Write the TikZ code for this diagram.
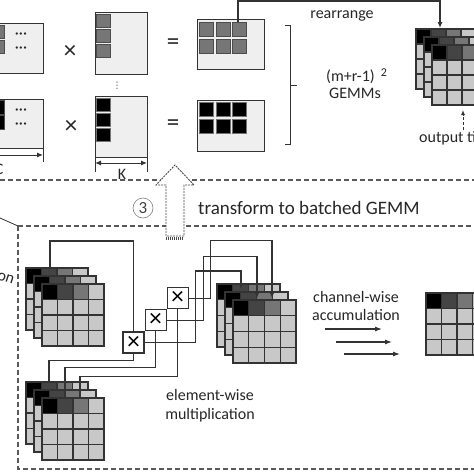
\documentclass[tikz,border=0pt]{standalone}
\usepackage{fontspec}
\setmainfont{Carlito}
\newfontfamily\symfont{DejaVu Sans}
\usetikzlibrary{arrows.meta}

\definecolor{tiledark}{HTML}{444444}
\definecolor{tilemid}{HTML}{767676}
\definecolor{tilelight}{HTML}{C8C8C8}
\definecolor{matfill}{HTML}{EFEFEF}
\definecolor{edge}{HTML}{333333}

% one 4x4 tile: left x, top y, cell size
\newcommand{\drawtile}[3]{%
  \foreach \ci/\tone in {0/black,1/tiledark,2/tilemid,3/tilelight}
    \filldraw[cell, fill=\tone] ({#1+\ci*#3},#2) rectangle ++(#3,#3);
  \foreach \ri in {1,2,3}
    \foreach \ci in {0,...,3}
      \filldraw[cell, fill=tilelight] ({#1+\ci*#3},{#2+\ri*#3}) rectangle ++(#3,#3);
}
% three tiles stacked as channels
\newcommand{\drawstack}[3]{%
  \drawtile{#1}{#2}{#3}
  \drawtile{#1+8}{#2+8}{#3}
  \drawtile{#1+16}{#2+16}{#3}
}

\begin{document}
\begin{tikzpicture}[x=1pt, y=-1pt,
    cell/.style={draw=edge, line width=1.2pt},
    mat/.style={draw=edge, fill=matfill, line width=1pt, rectangle, inner sep=0pt},
    sq/.style={draw=black!70, line width=1pt},
    wire/.style={draw=edge, line width=1.1pt},
    band/.style={draw=black!65, line width=1.1pt, dash pattern=on 5pt off 3pt},
    lbl/.style={font=\fontsize{16}{18}\selectfont, text=black!85, inner sep=0pt},
    dots/.style={lbl, align=center, font=\fontsize{16}{14}\selectfont},
    op/.style={font=\fontsize{25}{26}\selectfont, text=black!85, inner sep=0pt},
    mulbox/.style={draw=edge, fill=white, line width=1.1pt, minimum size=21pt,
      inner sep=0pt, font=\fontsize{25}{25}\selectfont}]

    \useasboundingbox (0,0) rectangle (474,474);
    \clip (0,0) rectangle (474,474);

    % Batched GEMM: matrices
    \node (lhsA) [mat, minimum width=53pt, minimum height=50pt] at (16.5,48) {};
    \node (lhsB) [mat, minimum width=53pt, minimum height=49pt] at (16.5,123.5) {};
    \node (rhsA) [mat, minimum width=52pt, minimum height=62pt] at (121,43) {};
    \node (rhsB) [mat, minimum width=52pt, minimum height=61pt] at (121,126.5) {};
    \node (resA) [mat, minimum width=67pt, minimum height=50pt] at (230.5,44) {};
    \node (resB) [mat, minimum width=67pt, minimum height=51pt] at (230.5,125.5) {};

    \foreach \yy in {25,40}
      \filldraw[sq, fill=tilemid] (-9,\yy) rectangle ++(13,13);
    \foreach \yy in {100,115}
      \filldraw[sq, fill=black] (-9,\yy) rectangle ++(13,14);
    \foreach \yy in {14,29,44}
      \filldraw[sq, fill=tilemid] (96,\yy) rectangle ++(14,13);
    \foreach \yy in {98,113,128}
      \filldraw[sq, draw=black!55, fill=black] (96,\yy) rectangle ++(14,13);
    \foreach \xx in {199,216,232}
      \foreach \yy in {22,39}
        \filldraw[sq, fill=tilemid] (\xx,\yy) rectangle ++(14,14);
    \foreach \xx in {199,216,232}
      \foreach \yy in {102,119}
        \filldraw[sq, draw=black!55, fill=black] (\xx,\yy) rectangle ++(14,14);

    \node (dotsA) [dots] at (21,43) {···\\···};
    \node (dotsB) [dots] at (21,119) {···\\···};
    \node (vdots) [inner sep=0pt, font=\symfont\fontsize{9}{10}\selectfont, text=black!75] at (117,86) {⋮};

    \node (timesA) [op] at (70,52) {×};
    \node (timesB) [op] at (71,127) {×};
    \node (eqA) [op] at (173,44) {=};
    \node (eqB) [op] at (173,125) {=};

    % Dimensions C and K
    \coordinate (cL) at (-8,155);
    \coordinate (cR) at (43,155);
    \draw[wire, line width=1pt, -{Latex[length=6pt,width=5pt]}] (cL) -- (cR);
    \draw[wire, line width=1pt] (43,148) -- (43,162);
    \node (clbl) [lbl, anchor=east] at (3.5,169) {C};
    \coordinate (kL) at (95,163);
    \coordinate (kR) at (147,163);
    \draw[wire, line width=1pt, {Latex[length=6pt,width=5pt]}-{Latex[length=6pt,width=5pt]}] (kL) -- (kR);
    \draw[wire, line width=1pt] (95,157) -- (95,172) (147,157) -- (147,172);
    \node (klbl) [lbl] at (122,174) {K};

    % Brace
    \draw[wire, line width=1pt] (285,25) -- (290,25) -- (290,144) -- (285,144);
    \draw[wire, line width=1pt] (290,85) -- (297,85);
    \node (count) [lbl, anchor=west] at (326,76) {(m+r-1)\hspace{6pt}\raisebox{5pt}{\fontsize{12}{12}\selectfont 2}};
    \node (gemms) [lbl] at (355,93) {GEMMs};

    % Output tile and rearrange
    \drawstack{416}{29}{15}
    \coordinate (rsrc) at (238,22);
    \coordinate (otop) at (440,28);
    \draw[wire, -{Latex[length=6pt,width=5pt]}] (rsrc) -- ++(0,-21) -| (otop);
    \node (rearr) [lbl] at (342,16) {rearrange};
    \node (outlbl) [lbl, anchor=west] at (419,138) {output tile};
    \coordinate (otail) at (463,130);
    \coordinate (ohead) at (463,110);
    \draw[wire, line width=1pt, dash pattern=on 3pt off 2pt, -{Latex[length=5pt,width=4pt]}] (otail) -- (ohead);

    % Band: transform to batched GEMM
    \draw[band] (0,180) -- (474,180);
    \draw[band] (18,226) -- (474,226);
    \draw[band] (18,226) -- (18,469) -- (474,469);
    \draw[wire, line width=0.8pt] (0,218) -- (18,226);
    \node (onlbl) [lbl, anchor=east, rotate=-18] at (14,281) {on};
    \filldraw[fill=white, draw=black!70, line width=0.9pt, dash pattern=on 2pt off 1pt]
      (166,236) -- (166,185) -- (156,185) -- (175,165) -- (194,185) -- (184,185) -- (184,236) -- cycle;
    \draw[black!70, line width=3pt, dash pattern=on 1pt off 1pt] (166,238) -- (184,238);
    \node (step3) [circle, draw=black!50, line width=0.6pt, minimum size=20pt, inner sep=0pt,
      font=\fontsize{17}{18}\selectfont, text=black!75] at (143,208) {3};
    \node (transf) [lbl, anchor=west, font=\fontsize{19}{21}\selectfont] at (198,208) {transform to batched GEMM};

    % Element-wise multiplication
    \drawstack{26}{268}{15.5}
    \drawstack{26}{382}{15.5}
    \drawstack{217}{284}{15.75}
    \drawtile{426}{293}{15.5}

    \node (mul1) [mulbox] at (133.5,342.5) {×};
    \node (mul2) [mulbox, anchor=south west] at (mul1.north east) {×};
    \node (mul3) [mulbox, anchor=south west] at (mul2.north east) {×};

    \coordinate (topin) at (50,268);
    \coordinate (botin1) at (49,382);
    \coordinate (botin2) at (65,390);
    \coordinate (botin3) at (80,398);
    \coordinate (midin1) at (241,289);
    \coordinate (midin2) at (257,298);
    \coordinate (midin3) at (272,298);

    \draw[wire] (topin) -- ++(0,-27) -| (mul1.north);
    \draw[wire] (mul1.south) -- ++(0,7) -| (botin1);
    \draw[wire] (mul2.south) -- ++(0,36) -| (botin2);
    \draw[wire] (mul3.south) -- ++(0,67) -| (botin3);
    \draw[wire, -{Latex[length=5pt,width=4pt]}] (mul1.east) -| ++(51,-71.5) -| (midin1);
    \draw[wire, -{Latex[length=5pt,width=4pt]}] (mul2.east) -| ++(37,-63.5) -| (midin2);
    \draw[wire, -{Latex[length=5pt,width=4pt]}] (mul3.east) -| ++(22,-58) -| (midin3);

    \node (ewise) [lbl, align=center, font=\fontsize{16}{19}\selectfont] at (210,406) {element-wise\\multiplication};

    % Channel-wise accumulation
    \node (cwise) [lbl, align=center, font=\fontsize{16}{18}\selectfont] at (356,306) {channel-wise\\accumulation};
    \coordinate (acc1s) at (325,329);
    \coordinate (acc1e) at (382,329);
    \coordinate (acc2s) at (336,342);
    \coordinate (acc2e) at (392,342);
    \coordinate (acc3s) at (344,354);
    \coordinate (acc3e) at (400,354);
    \draw[wire, -{Latex[length=7pt,width=5pt]}] (acc1s) -- (acc1e);
    \draw[wire, -{Latex[length=7pt,width=5pt]}] (acc2s) -- (acc2e);
    \draw[wire, -{Latex[length=7pt,width=5pt]}] (acc3s) -- (acc3e);
\end{tikzpicture}
\end{document}
